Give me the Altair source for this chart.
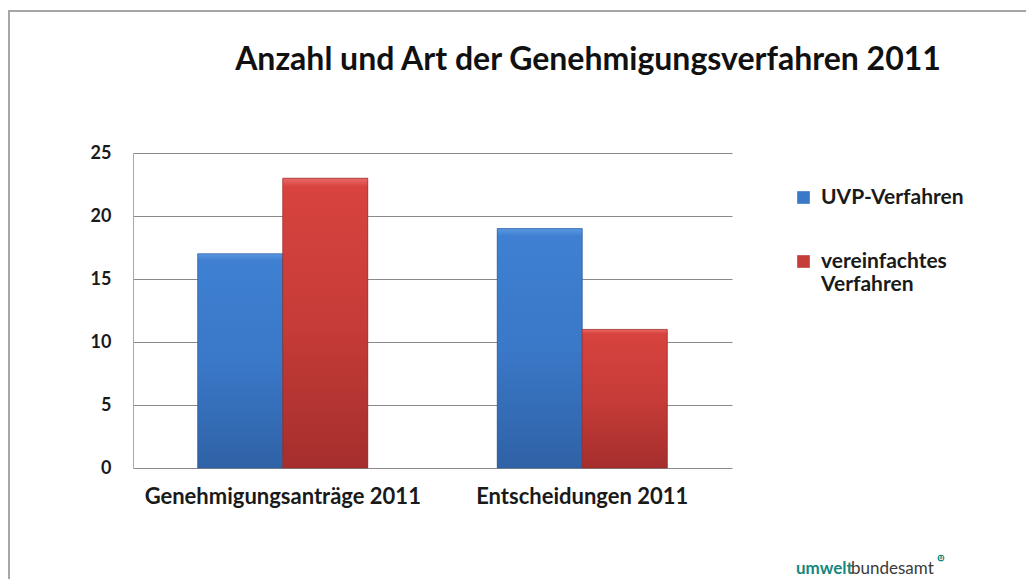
import altair as alt
import pandas as pd

categories = ["Genehmigungsanträge 2011", "Entscheidungen 2011"]
series = ["UVP-Verfahren", "vereinfachtes Verfahren"]
uvp_values = [17, 19]
vereinfacht_values = [23, 11]
y_ticks = [0, 5, 10, 15, 20, 25]
title_text = "Anzahl und Art der Genehmigungsverfahren 2011"

rows = []
for i, c in enumerate(categories):
    rows.append({"category": c, "series": series[0], "value": uvp_values[i]})
    rows.append({"category": c, "series": series[1], "value": vereinfacht_values[i]})
df = pd.DataFrame(rows)

FONT = "Lato"
W, H = 599, 315
PAD = {"left": 125, "top": 145, "right": 294, "bottom": 111}

blue_grad = alt.LinearGradient(
    gradient="linear", x1=0, x2=0, y1=0, y2=1,
    stops=[alt.GradientStop(color="#5a98e2", offset=0),
           alt.GradientStop(color="#3f80d2", offset=0.03),
           alt.GradientStop(color="#3a78c8", offset=0.5),
           alt.GradientStop(color="#2f62a6", offset=1)])
red_grad = alt.LinearGradient(
    gradient="linear", x1=0, x2=0, y1=0, y2=1,
    stops=[alt.GradientStop(color="#ea6a66", offset=0),
           alt.GradientStop(color="#d8433f", offset=0.03),
           alt.GradientStop(color="#c63c38", offset=0.5),
           alt.GradientStop(color="#a52e2c", offset=1)])

x_enc = alt.X("category:N", sort=categories, title=None,
              scale=alt.Scale(paddingInner=0.432, paddingOuter=0.216),
              axis=alt.Axis(labelAngle=0, labelFont=FONT, labelFontSize=22,
                            labelFontWeight="bold", labelColor="#1a1a1a",
                            labelLimit=500, ticks=False, domain=False,
                            labelPadding=18))
xo_enc = alt.XOffset("series:N", sort=series)
y_enc = alt.Y("value:Q", title=None,
              scale=alt.Scale(domain=[0, 25], nice=False),
              axis=alt.Axis(values=y_ticks, labelFont=FONT, labelFontSize=18,
                            labelFontWeight="bold", labelColor="#1a1a1a",
                            ticks=False, domain=True, domainColor="#a8a8a8",
                            domainWidth=1, labelPadding=22,
                            grid=True, gridColor="#8a8a8a", gridWidth=1))

base = alt.Chart(df).encode(x=x_enc, xOffset=xo_enc, y=y_enc)

legend_layer = base.mark_bar().encode(
    color=alt.Color("series:N", sort=series,
                    scale=alt.Scale(domain=series, range=["#3a78c8", "#c63c38"]),
                    legend=alt.Legend(
                        title=None, orient="none", legendX=660, legendY=34,
                        symbolType="square", symbolSize=160, symbolStrokeWidth=0,
                        labelFont=FONT, labelFontSize=21, labelFontWeight="bold",
                        labelColor="#1a1a1a", rowPadding=42, labelLimit=300,
                        labelExpr="datum.label == 'vereinfachtes Verfahren' ? ['vereinfachtes', 'Verfahren'] : datum.label",
                        labelOffset=7))
)

blue_layer = base.transform_filter(alt.datum.series == series[0]).mark_bar(
    color=blue_grad, stroke="#2d5a96", strokeWidth=0.6)
red_layer = base.transform_filter(alt.datum.series == series[1]).mark_bar(
    color=red_grad, stroke="#8e2826", strokeWidth=0.6)

one = pd.DataFrame({"a": [0]})
title_layer = alt.Chart(one).mark_text(
    text=title_text, font=FONT, fontSize=32, fontWeight="bold", color="#111111",
    align="center", baseline="middle").encode(x=alt.value(455), y=alt.value(-93))

logo1 = alt.Chart(one).mark_text(
    text="umwelt", font=FONT, fontSize=17, fontWeight="bold", color="#17877d",
    align="left", baseline="alphabetic").encode(x=alt.value(663), y=alt.value(421))
logo2 = alt.Chart(one).mark_text(
    text="bundesamt", font=FONT, fontSize=17, fontWeight="normal", color="#3a3a3a",
    align="left", baseline="alphabetic").encode(x=alt.value(718), y=alt.value(421))
logo3 = alt.Chart(one).mark_point(
    shape="circle", size=45, filled=True, color="#17877d", opacity=1).encode(
    x=alt.value(808), y=alt.value(405))
logo4 = alt.Chart(one).mark_text(
    text="u", font=FONT, fontSize=8, fontWeight="bold", color="white",
    align="center", baseline="middle").encode(x=alt.value(808), y=alt.value(405))

border_top = alt.Chart(one).mark_rule(color="#a6a6a6", strokeWidth=2).encode(
    x=alt.value(-125), x2=alt.value(901), y=alt.value(-142))
border_left = alt.Chart(one).mark_rule(color="#a6a6a6", strokeWidth=2).encode(
    x=alt.value(-124), y=alt.value(-142), y2=alt.value(440))

chart = alt.layer(
    legend_layer, blue_layer, red_layer, title_layer,
    logo1, logo2, logo3, logo4, border_top, border_left
).properties(
    width=W, height=H, padding=PAD,
    autosize=alt.AutoSizeParams(type="none")
).configure(background="white", view=alt.ViewConfig(stroke=None))

chart.save("out.html", embed_options={"renderer": "svg", "actions": False})
